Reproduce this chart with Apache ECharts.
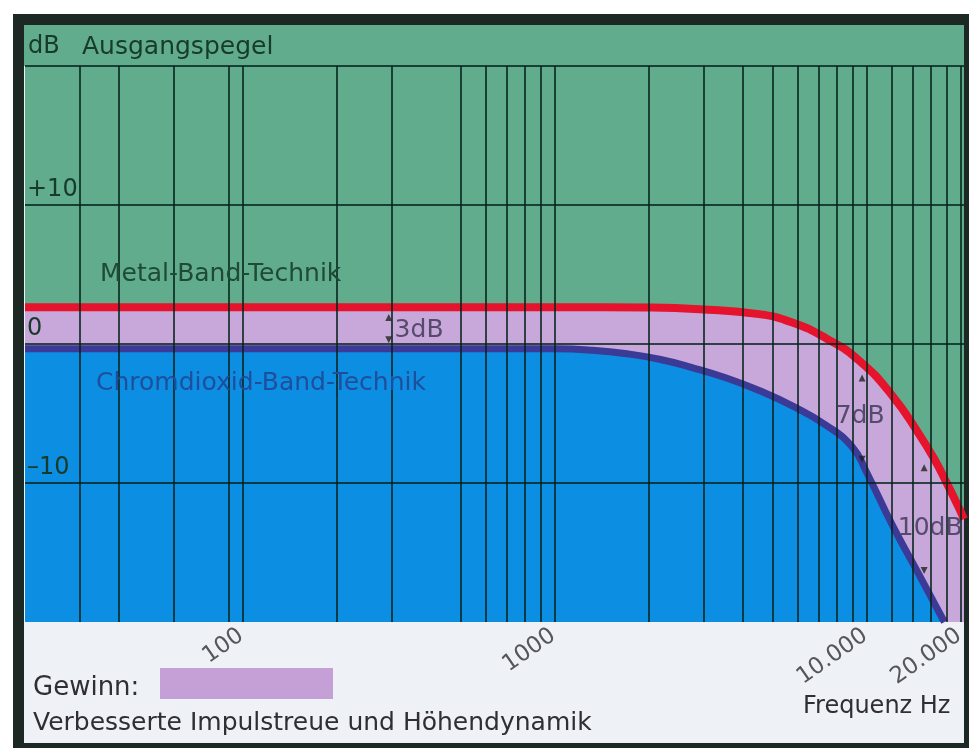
<!DOCTYPE html>
<html><head><meta charset="utf-8">
<script src="https://cdn.jsdelivr.net/npm/echarts@6/dist/echarts.min.js"></script>
<style>html,body{margin:0;padding:0;background:#fff;}#c{width:969px;height:751px;}</style>
</head><body><div id="c"></div>
<script>
// Frequency response (Hz -> dB)
const metalFreq = [20, 100, 1000, 2000, 2900, 4500, 5760, 7400, 9440, 12030, 14690, 16640, 17910, 19710, 20450];
const metalDb   = [2.65, 2.65, 2.65, 2.62, 2.5, 2.15, 1.55, 0.4, -1.2, -3.7, -6.5, -8.5, -9.9, -11.8, -12.6];
const chromeFreq = [20, 1000, 1320, 1700, 2160, 2750, 3540, 4510, 5760, 7400, 8960, 9900, 12030, 14360, 17020, 17700];
const chromeDb   = [-0.35, -0.35, -0.45, -0.7, -1.1, -1.7, -2.45, -3.35, -4.45, -5.85, -7.4, -9.1, -13.0, -16.2, -19.3, -20];
// grid
const gridFreqs = [30, 40, 60, 90, 100, 200, 300, 500, 600, 700, 800, 900, 1000, 2000, 3000, 4000, 5000, 6000, 7000, 8000, 9000, 10000, 12000, 14000, 16000, 18000, 20000];
const gridDb = [-10, 0, 10, 20];
const tickFreqs = [100, 1000, 10000, 20000];
const tickLabels = ['100', '1000', '10.000', '20.000'];
const yTickLabels = {'10': '+10', '0': '0', '-10': '\u201310'};
// gain annotations
const gainFreqs = [293, 9640, 15240];
const gainTopDb = [1.9, -2.45, -8.9];
const gainBottomDb = [0.3, -8.3, -16.3];
const gainLabelFreqs = [306, 9500, 15930];
const gainLabelDb = [0.95, -5.2, -13.3];
const gainLabels = ['3dB', '7dB', '10dB'];

const FONT = 'DejaVu Sans';
const GREEN = '#61ac8c', BLUE = '#0c8ee2', PURPLE = '#c8a8da', RED = '#e5132b', INDIGO = '#3b3a96';
const GRIDLINE = 'rgba(5,35,25,0.78)';

const zip = (a, b) => a.map((v, i) => [v, b[i]]);
const chart = echarts.init(document.getElementById('c'));
chart.setOption({
  animation: false,
  grid: {left: 25, right: 5, top: 66, bottom: 129, show: true, backgroundColor: GREEN, borderWidth: 0},
  xAxis: {type: 'log', logBase: 10, min: 20, max: 20450,
    axisLine: {show: false}, axisTick: {show: false}, axisLabel: {show: false}, splitLine: {show: false}, minorSplitLine: {show: false}},
  yAxis: {type: 'value', min: -20, max: 20, interval: 10, z: 10,
    axisLine: {show: false}, axisTick: {show: false}, splitLine: {show: false},
    axisLabel: {inside: true, margin: 2, verticalAlign: 'bottom', padding: [0, 0, 3, 0], color: '#173a2a', fontFamily: FONT, fontSize: 24,
      formatter: v => yTickLabels[String(v)] || ''}},
  graphic: [
    {type: 'rect', z: -10, silent: true, shape: {x: 13, y: 14, width: 956, height: 734}, style: {fill: '#1b2823'}},
    {type: 'rect', z: -9, silent: true, shape: {x: 24, y: 25, width: 940, height: 718}, style: {fill: '#eef1f6'}},
    {type: 'rect', z: -8, silent: true, shape: {x: 24, y: 25, width: 940, height: 41}, style: {fill: GREEN}},
    {type: 'rect', z: 10, silent: true, shape: {x: 160, y: 668, width: 173, height: 31}, style: {fill: '#c4a0d6'}},
    {type: 'text', z: 10, silent: true, style: {text: 'dB', x: 28, y: 47, verticalAlign: 'middle', font: '24px "DejaVu Sans"', fill: '#173a2a'}},
    {type: 'text', z: 10, silent: true, style: {text: 'Ausgangspegel', x: 82, y: 47, verticalAlign: 'middle', font: '25px "DejaVu Sans"', fill: '#173a2a'}},
    {type: 'text', z: 10, silent: true, style: {text: 'Metal-Band-Technik', x: 100, y: 274, verticalAlign: 'middle', font: '25px "DejaVu Sans"', fill: '#1f4a35'}},
    {type: 'text', z: 10, silent: true, style: {text: 'Chromdioxid-Band-Technik', x: 96, y: 383, verticalAlign: 'middle', font: '25px "DejaVu Sans"', fill: '#1f4f9c'}},
    {type: 'text', z: 10, silent: true, style: {text: 'Gewinn:', x: 33, y: 688, verticalAlign: 'middle', font: '26px "DejaVu Sans"', fill: '#2e2e33'}},
    {type: 'text', z: 10, silent: true, style: {text: 'Verbesserte Impulstreue und H\u00f6hendynamik', x: 33, y: 723, verticalAlign: 'middle', font: '25px "DejaVu Sans"', fill: '#2e2e33'}},
    {type: 'text', z: 10, silent: true, style: {text: 'Frequenz Hz', x: 803, y: 707, verticalAlign: 'middle', font: '24px "DejaVu Sans"', fill: '#2e2e33'}}
  ],
  series: [
    {name: 'Metal area', type: 'line', z: 2, data: zip(metalFreq, metalDb), smooth: 0.5, showSymbol: false, symbol: 'none',
      lineStyle: {width: 0}, areaStyle: {color: PURPLE, opacity: 1, origin: 'start'}, silent: true},
    {name: 'Chrome area', type: 'line', z: 2, data: zip(chromeFreq, chromeDb), smooth: 0.5, showSymbol: false, symbol: 'none',
      lineStyle: {width: 0}, areaStyle: {color: BLUE, opacity: 1, origin: 'start'}, silent: true},
    {name: 'grid', type: 'line', z: 3, data: [[20, -20]], symbol: 'none', lineStyle: {width: 0}, silent: true,
      markLine: {silent: true, symbol: ['none', 'none'], label: {show: false}, animation: false,
        lineStyle: {color: GRIDLINE, width: 2, type: 'solid'},
        data: gridFreqs.map(f => ({xAxis: f})).concat(gridDb.map(d => ({yAxis: d})))}},
    {name: 'Metal-Band-Technik', type: 'line', z: 4, data: zip(metalFreq, metalDb), smooth: 0.5, symbol: 'none',
      lineStyle: {color: RED, width: 8}, silent: true},
    {name: 'Chromdioxid-Band-Technik', type: 'line', z: 4, data: zip(chromeFreq, chromeDb), smooth: 0.5, symbol: 'none',
      lineStyle: {color: INDIGO, width: 7}, silent: true},
    {name: 'gain top', type: 'scatter', z: 5, data: zip(gainFreqs, gainTopDb), symbol: 'triangle', symbolSize: 7, itemStyle: {color: '#222'}, silent: true},
    {name: 'gain bottom', type: 'scatter', z: 5, data: zip(gainFreqs, gainBottomDb), symbol: 'triangle', symbolRotate: 180, symbolSize: 7, itemStyle: {color: '#222'}, silent: true},
    {name: 'gain labels', type: 'scatter', z: 6, symbolSize: 0, silent: true,
      data: zip(gainLabelFreqs, gainLabelDb).map((d, i) => i === 0 ? {value: d, label: {align: 'left'}} : {value: d}),
      label: {show: true, position: 'inside', color: '#3a3350', fontFamily: FONT, fontSize: 25,
        formatter: p => gainLabels[p.dataIndex]}, labelLayout: {hideOverlap: false}},
    {name: 'ticks', type: 'scatter', z: 6, data: tickFreqs.map(f => [f, -20]), symbolSize: 0, silent: true, clip: false,
      label: {show: true, position: 'inside', align: 'right', verticalAlign: 'top', rotate: 35, offset: [-8, -3],
        color: '#2e2e33', fontFamily: FONT, fontSize: 23, formatter: p => tickLabels[p.dataIndex]}}
  ]
});
</script></body></html>
